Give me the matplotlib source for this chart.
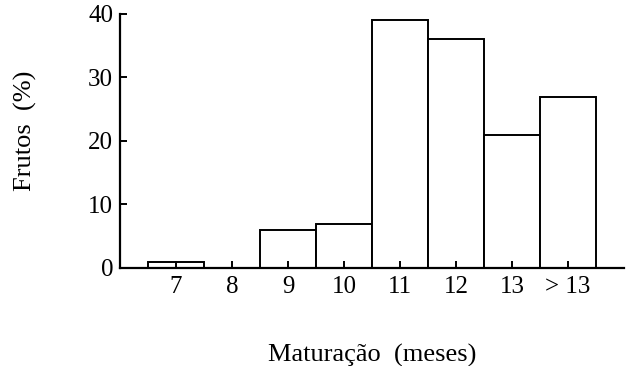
import numpy as np
import matplotlib
matplotlib.use('Agg')
import matplotlib.pyplot as plt

# Fruit maturation data
categorias = ['7', '8', '9', '10', '11', '12', '13', '> 13']
frutos = [1, 0, 6, 7, 39, 36, 21, 27]

plt.rcParams['font.family'] = ['Liberation Serif', 'DejaVu Serif']
plt.rcParams['font.size'] = 18

fig = plt.figure(figsize=(6.3, 3.66), dpi=100)
ax = fig.add_axes([0.1905, 0.2678, 0.80, 0.694])

x = np.arange(len(categorias))
ax.bar(x, frutos, width=1.0, color='white', edgecolor='black', linewidth=1.4, zorder=1)

ax.set_xlim(-1, 8)
ax.set_ylim(0, 40)
ax.set_xticks(x)
ax.set_xticklabels(categorias)
ax.set_yticks([0, 10, 20, 30, 40])

for s in ['top', 'right']:
    ax.spines[s].set_visible(False)
for s in ['left', 'bottom']:
    ax.spines[s].set_linewidth(1.6)

ax.tick_params(axis='x', direction='in', length=5, width=1.4, pad=6)
ax.tick_params(axis='y', direction='in', length=5, width=1.4, pad=5)

ax.set_xlabel('Maturação  (meses)', fontsize=19)
ax.set_ylabel('Frutos  (%)', fontsize=19)
ax.xaxis.set_label_coords(0.5, -0.30)
ax.yaxis.set_label_coords(-0.165, 0.54)

plt.savefig('out.png', dpi=100)
